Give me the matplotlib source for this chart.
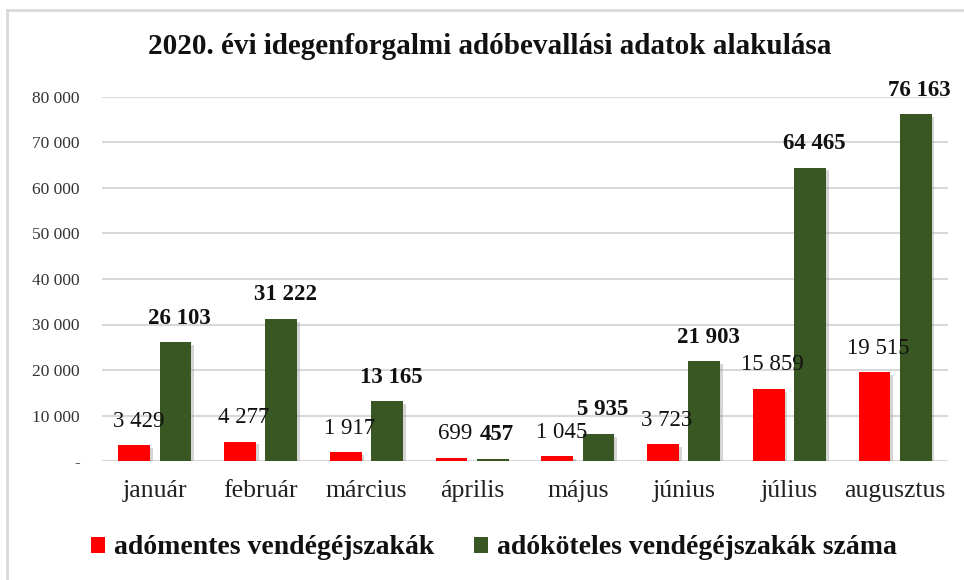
import matplotlib
matplotlib.use("Agg")
import matplotlib.pyplot as plt
import numpy as np
from matplotlib.patches import Patch
from matplotlib.lines import Line2D
import matplotlib.patheffects as pe
from matplotlib.ticker import FuncFormatter, MultipleLocator

months = ["január", "február", "március", "április", "május", "június", "július", "augusztus"]
adomentes = [3429, 4277, 1917, 699, 1045, 3723, 15859, 19515]
adokoteles = [26103, 31222, 13165, 457, 5935, 21903, 64465, 76163]
series_names = ["adómentes vendégéjszakák", "adóköteles vendégéjszakák száma"]
title = "2020. évi idegenforgalmi adóbevallási adatok alakulása"

RED = "#FF0000"
GREEN = "#385723"
plt.rcParams['font.family'] = ['Liberation Serif', 'DejaVu Serif']

def fmt(v):
    return f"{int(v):,}".replace(",", " ")

fig = plt.figure(figsize=(9.64, 5.8), dpi=100)
W, H = 964, 580
ax = fig.add_axes([102 / W, 1 - 461 / H, (948 - 102) / W, (461 - 97) / H])

x = np.arange(len(months))
bw = 0.30
off = 0.194
shadow = [pe.SimplePatchShadow(offset=(2, -2), shadow_rgbFace="#888888", alpha=0.35), pe.Normal()]
b1 = ax.bar(x - off, adomentes, bw, color=RED, zorder=3, path_effects=shadow)
b2 = ax.bar(x + off, adokoteles, bw, color=GREEN, zorder=3, path_effects=shadow)

for xi, v in zip(x, adomentes):
    ax.annotate(fmt(v), (xi - off, v), xytext=(4, 24), textcoords="offset pixels",
                ha="center", va="center", fontsize=16.5, color="#111111", zorder=5)
for xi, v in zip(x, adokoteles):
    ax.annotate(fmt(v), (xi + off, v), xytext=(4, 24), textcoords="offset pixels",
                ha="center", va="center", fontsize=16.5, fontweight="bold", color="#111111", zorder=5)

ax.set_xlim(-0.5, len(months) - 0.5)
ax.set_ylim(0, 80000)
ax.yaxis.set_major_locator(MultipleLocator(10000))
ax.yaxis.set_major_formatter(FuncFormatter(lambda v, p: "-" if v == 0 else fmt(v)))
ax.grid(axis="y", color="#D9D9D9", linewidth=1.5, zorder=0)
ax.set_axisbelow(True)
for s in ax.spines.values():
    s.set_visible(False)
ax.axhline(0, color="#D9D9D9", linewidth=1.5, zorder=1)
ax.set_xticks(x)
ax.set_xticklabels(months, fontsize=18.5, color="#222222")
ax.tick_params(axis="x", length=0, pad=14)
ax.tick_params(axis="y", length=0, pad=16, labelsize=12.5, labelcolor="#333333")

fig.text(490 / W, 1 - 47 / H, title, ha="center", va="center", fontsize=21,
         fontweight="bold", color="#111111")

handles = [Patch(facecolor=RED), Patch(facecolor=GREEN)]
leg = fig.legend(handles, series_names, loc="center", bbox_to_anchor=(494 / W, 1 - 548 / H),
                 ncol=2, frameon=False, prop={"size": 20, "weight": "bold"},
                 handlelength=0.5, handleheight=0.5, handletextpad=0.35, columnspacing=1.4)
for t in leg.get_texts():
    t.set_color("#111111")

# outer border (top and left visible)
fig.add_artist(Line2D([7 / W, 1], [1 - 10 / H, 1 - 10 / H], transform=fig.transFigure,
                      color="#D9D9D9", linewidth=2))
fig.add_artist(Line2D([7 / W, 7 / W], [0, 1 - 10 / H], transform=fig.transFigure,
                      color="#D9D9D9", linewidth=2))

fig.savefig("out.png", dpi=100)
